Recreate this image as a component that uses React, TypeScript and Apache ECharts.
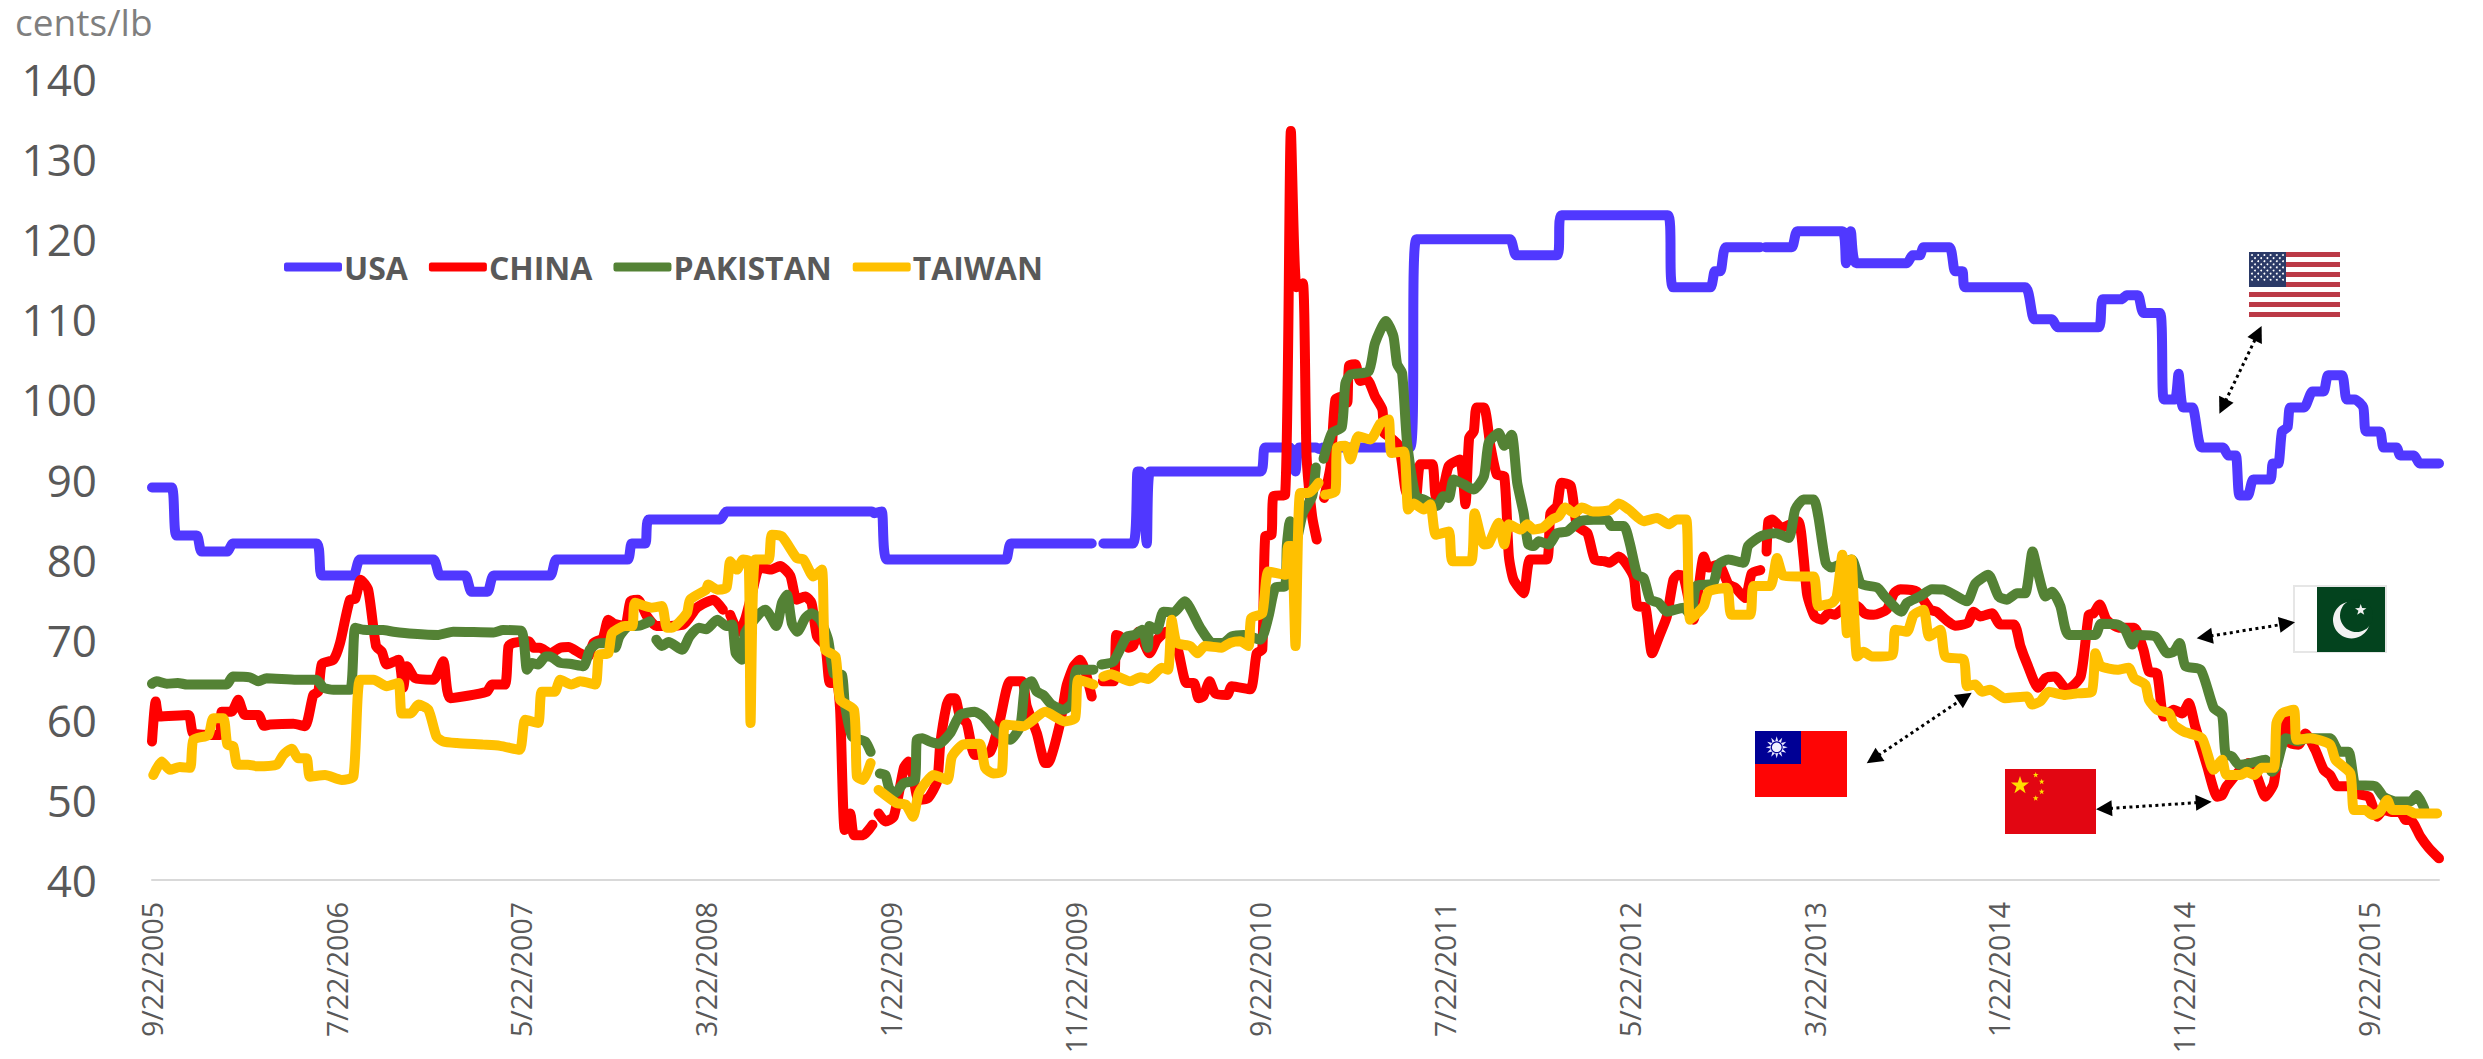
import React, { useEffect, useRef } from "react";
import * as echarts from "echarts";

type P = [number, number | null];

// x = months since 9/22/2005, y = cents/lb
const usa: P[] = [[0,89],[1.06,89],[1.33,83],[2.42,83],[2.69,81],[4.08,81],[4.37,82],[8.9,82],[9.2,78],[10.9,78],[11.26,80],[15.23,80],[15.6,78],[16.95,78],[17.3,76],[18.16,76],[18.5,78],[21.55,78],[21.9,80],[25.74,80],[25.97,82],[26.7,82],[26.9,85],[30.75,85],[31.1,86],[38.97,86],[39.1,85.8],[39.5,86],[39.8,80],[46.2,80],[46.5,82],[50.87,82],[51.2,null],[51.5,82],[53.1,82],[53.35,91],[53.5,91],[53.85,82],[54.03,91],[60,91],[60.26,94],[61.6,94],[61.9,91],[62.1,94],[63,94],[63.2,93.8],[63.4,94],[68.1,94],[68.45,120],[73.5,120],[73.85,118],[76.05,118],[76.3,123],[82.05,123],[82.35,114],[84.35,114],[84.6,116],[84.9,116],[85.2,119],[87.05,119],[87.2,null],[87.35,119],[88.76,119],[89.07,121],[91.5,121],[91.7,117],[91.96,121],[92.25,117],[95,117],[95.3,118],[95.7,118],[95.9,119],[97.3,119],[97.6,116],[98,116],[98.15,114],[101.4,114],[101.9,110],[102.85,110],[103.15,109],[105.37,109],[105.6,112.5],[106.6,112.5],[106.9,113],[107.5,113],[107.8,110.8],[108.7,110.8],[108.9,100],[109.5,100],[109.7,103.2],[109.95,99],[110.45,99],[110.95,94],[112.1,94],[112.4,93],[112.8,93],[113,88],[113.45,88],[113.75,90],[114.67,90],[114.8,92],[115.1,92],[115.3,96],[115.6,96.5],[115.75,99],[116.5,99],[116.95,101],[117.55,101],[117.8,103],[118.55,103],[118.8,100],[119.25,100],[119.7,99],[119.85,96],[120.6,96],[120.8,94],[121.5,94],[121.7,93],[122.45,93],[122.75,92],[123.8,92]];

const china: P[] = [[0,57.3],[0.2,62.3],[0.4,60.4],[1.97,60.6],[2.24,58.3],[3.68,58.1],[3.77,61],[4.3,61],[4.67,62.5],[5.03,60.6],[5.76,60.6],[6.06,59.25],[6.4,59.4],[7.65,59.5],[8.28,59.2],[8.73,63.1],[9,63.5],[9.2,67],[9.82,67.5],[10.18,69.6],[10.72,75],[11,75.1],[11.3,77.5],[11.7,76.25],[12.13,69.2],[12.44,68.5],[12.7,66.9],[13.34,67.5],[13.6,64],[13.8,66.7],[14.24,65.2],[15.23,65],[15.77,67.3],[16.14,62.7],[18.12,63.5],[18.4,64.4],[19.1,64.4],[19.3,69.2],[19.57,69.6],[20.4,69.8],[20.65,69],[21,69],[21.55,68.3],[22.1,69],[22.54,69.1],[23.17,68.3],[23.6,67.9],[23.9,69.6],[24.4,70.2],[24.7,72.5],[25,72],[25.6,71.7],[25.9,74.8],[26.3,75],[26.8,72.9],[27.3,71.7],[28.77,71.9],[29.5,74],[30.4,75],[30.9,73.75],[31.1,null],[31.3,73.1],[31.75,71],[32.1,72.5],[32.5,76],[32.9,79],[33.5,78.75],[34,79.2],[34.55,78],[34.9,75],[35.36,75.4],[35.7,74.6],[36,70.4],[36.45,69.2],[36.7,64.6],[37.07,64.6],[37.25,61.25],[37.5,46.25],[37.8,48.3],[38,45.6],[38.5,45.6],[39,46.9],[39.15,null],[39.33,48.3],[39.7,47.3],[40.15,47.9],[40.7,54],[40.95,54.8],[41.2,53],[41.5,50],[42,50.2],[42.5,52.3],[42.67,57],[43,61.7],[43.2,62.7],[43.47,62.7],[43.74,60.4],[44.1,59.6],[44.55,55.6],[45.37,56],[45.9,60],[46.45,64.8],[47.1,64.8],[47.35,61.7],[47.9,58.3],[48.35,54.6],[48.5,54.6],[49.16,59.6],[49.5,64.2],[49.9,66.7],[50.24,67.5],[50.5,66.25],[50.87,62.9],[51.2,null],[51.47,64.8],[52.05,64.8],[52.2,70.6],[52.4,70.4],[52.86,69],[53.1,69.2],[53.4,71],[54,68.3],[54.4,70],[54.9,71],[55.5,69],[56,64.6],[56.4,64.6],[56.65,62.7],[56.9,62.9],[57.25,64.8],[57.55,63.3],[58.2,63.1],[58.45,64.2],[59.45,63.8],[59.8,68.3],[60.1,68.75],[60.26,82.9],[60.6,83.1],[60.7,87.9],[61.34,88.1],[61.65,133.5],[61.95,114],[62.3,114.5],[62.5,92.9],[62.8,85.4],[63.05,82.5],[63.25,null],[63.45,87.7],[63.8,91.7],[64.06,100],[64.5,100.4],[64.7,99.6],[64.8,104.2],[65.14,104.4],[65.4,102.3],[65.77,102.5],[66.2,100.4],[66.6,98.75],[66.7,95.8],[66.95,95.4],[67.5,94.2],[67.85,88.75],[68.1,87.5],[68.4,87.5],[68.66,91.9],[69.3,91.9],[69.5,87.9],[69.9,89],[70.2,91.7],[70.8,92.5],[71.1,86.9],[71.3,95.2],[71.55,96],[71.7,99],[72.1,99],[72.45,94.2],[72.8,90.6],[73.2,90.4],[73.45,80.4],[73.7,77.5],[74.25,75.8],[74.6,80],[75.5,80],[75.7,85.8],[76.06,86.7],[76.3,89.6],[76.8,89.2],[77.14,84.2],[77.7,83.3],[78.1,80],[78.6,79.8],[78.9,79.6],[79.4,80.4],[80.2,77.9],[80.4,74.2],[80.85,74],[81.2,68.3],[81.65,70.8],[82,72.9],[82.36,77.5],[82.6,78.1],[82.9,77.9],[83.45,72.5],[83.7,76],[84,80.4],[84.26,79],[84.8,79.4],[85.34,76.9],[85.7,76.5],[86.24,75.2],[86.6,78.3],[87.06,78.7],[87.25,null],[87.4,81],[87.5,84.8],[87.7,85],[88.2,84],[89.1,84.8],[89.4,80.4],[89.6,75.6],[90,72.9],[90.4,72.5],[90.76,73.3],[91.1,73.1],[91.6,74],[92.3,74.2],[92.7,73.3],[93.2,73.1],[93.9,73.75],[94.3,75.8],[94.64,76.3],[95.54,76],[96.26,73.75],[96.6,73.5],[97.2,72.3],[97.6,71.75],[98.3,72.1],[98.6,73.5],[98.97,72.9],[99.6,73.3],[100.05,71.9],[100.8,71.9],[101.14,69.2],[101.5,67],[102.1,64],[102.5,65.2],[103,65.4],[103.66,63.75],[104.4,65.4],[104.84,73.1],[105.1,73.3],[105.43,74.4],[105.8,72.5],[106.46,71.5],[107.3,71.5],[107.8,68.75],[108.1,66],[108.54,65.8],[108.9,60.4],[109.44,61.25],[109.9,60.8],[110.25,62.1],[110.6,59.2],[111.25,54.2],[111.8,50.4],[112.06,50.6],[112.3,51.7],[113.5,54.6],[113.95,52.9],[114.4,50.4],[114.85,52],[115.1,56.25],[115.5,60.4],[115.76,57.1],[116.2,56.9],[116.57,58.3],[117.1,56.25],[117.56,53.75],[117.9,53.1],[118.3,51.7],[119,51.7],[119.3,50.8],[120,50.4],[120.45,47.9],[120.8,48.75],[121.2,48.5],[121.7,48.5],[122,47.5],[122.26,47.5],[122.8,45.4],[123.25,44],[123.8,42.7]];

const pakistan: P[] = [[0,64.5],[0.25,64.8],[0.8,64.5],[1.4,64.6],[1.9,64.4],[4.04,64.4],[4.37,65.4],[5.3,65.3],[5.76,64.8],[6.2,65.2],[7.83,65],[8.9,65],[9.28,64],[9.82,63.75],[10.72,63.75],[11,71.5],[11.44,71.25],[12.5,71.2],[13.07,71],[14.15,70.75],[15.5,70.6],[16.3,71],[18.5,70.9],[19,71.2],[20,71.1],[20.3,66.25],[20.56,67.1],[20.9,66.9],[21.3,67.9],[21.55,67.9],[22.1,67.1],[22.6,67],[23.36,66.7],[23.7,68.75],[24.1,69.5],[24.6,69.6],[25.07,69],[25.3,70.4],[25.8,71.7],[26.4,71.75],[26.96,72.3],[27.1,null],[27.3,70],[27.6,69.2],[27.96,69.7],[28.7,68.75],[29.1,70.4],[29.6,71.5],[30,71.3],[30.6,72.5],[31.1,71.7],[31.4,71.9],[31.6,68.3],[31.93,67.5],[32.1,70.8],[32.9,73.3],[33.2,73.75],[33.8,71.7],[34.1,74.6],[34.37,75.6],[34.64,72],[34.94,71],[35.36,72.7],[35.7,73.3],[36.17,72.5],[36.6,70],[36.9,65.8],[37.35,65.6],[37.5,62],[37.9,57.9],[38.6,57.3],[38.9,56],[39.15,null],[39.4,53.3],[39.7,53.1],[39.9,51.5],[40.2,50.8],[40.7,52.1],[41.3,52.5],[41.4,57.5],[41.7,57.7],[42.1,57.3],[42.6,57],[43.2,58.3],[43.74,60.6],[44.55,61],[45,60.4],[45.7,58.5],[46.45,57.5],[47,59.2],[47.26,64.2],[47.6,64.8],[47.9,63.5],[48.25,63.1],[48.7,61.9],[49.34,61.25],[49.8,62.1],[50.06,66.25],[50.96,66.25],[51.2,null],[51.4,66.9],[52.05,67.3],[52.77,70.4],[53.2,70.6],[53.6,71.25],[53.9,69],[54,71.7],[54.4,71.25],[54.75,73.5],[55.3,73.4],[55.9,74.8],[56.74,71.5],[57.4,69.6],[58,69.6],[58.45,70.4],[59.1,70.6],[60,70],[60.44,72.9],[60.8,76.5],[61.34,76.7],[61.43,81.7],[61.6,84.8],[61.9,82],[62.3,85.8],[62.8,87.9],[63,91.5],[63.2,null],[63.42,92.6],[63.87,95.8],[64.4,96.5],[64.6,102],[64.87,103.1],[65.86,103.5],[66.2,107],[66.8,109.8],[67.2,107.9],[67.4,104.4],[67.67,103.3],[67.94,94.6],[68.4,87.9],[68.84,87.5],[69.56,86.7],[69.9,87.9],[70.2,87.7],[70.46,90],[71,89.4],[71.55,88.75],[72.1,90.4],[72.36,94.6],[72.9,95.8],[73.2,94.2],[73.6,95.6],[73.9,89.6],[74.25,85.8],[74.5,81.9],[74.8,81.7],[75.07,82.3],[75.6,81.9],[76.06,83.3],[76.6,83.5],[77.3,84.8],[78.77,85],[79,84.2],[79.67,84.2],[80,82],[80.4,78.1],[80.75,77.7],[81.1,75],[81.56,74.6],[82,73.5],[82.9,74],[83.3,73],[83.6,76.7],[84.5,77],[84.8,79.4],[85.34,80],[86.15,79.6],[86.4,81.7],[87,82.8],[87.3,83.1],[87.9,83.3],[88.6,82.7],[88.95,86.25],[89.4,87.5],[89.95,87.5],[90.2,85.4],[90.6,79.6],[90.9,79],[92,80],[92.5,77],[93.4,76.5],[93.8,75.4],[94.7,73.5],[95,74.6],[95.7,75.4],[96.35,76.3],[97,76.25],[98.25,74.8],[98.7,77],[99.4,78.1],[99.96,75.4],[100.4,75],[100.96,75.8],[101.4,75.8],[101.8,81],[102.1,78.3],[102.5,75.4],[102.85,76],[103.3,74.2],[103.75,70.6],[105.2,70.6],[105.5,72],[106.4,71.9],[106.8,71.25],[107.2,69.4],[107.45,70.6],[108.45,70.4],[109.1,68.3],[109.44,68.5],[109.76,69.6],[110.07,66.7],[110.9,66.25],[111.6,61.5],[112.06,60.6],[112.24,55.8],[112.6,55.4],[112.96,54.4],[113.6,54.6],[114.4,55],[114.76,53.5],[115,54.2],[115.5,57.7],[116.2,57.3],[116.66,57.7],[117.9,57.7],[118.4,56],[118.9,56],[119.3,51.9],[120.36,51.7],[120.8,50.4],[121.44,49.8],[122.26,49.8],[122.6,50.6],[123,48.9]];

const taiwan: P[] = [[0.07,53.1],[0.52,54.8],[0.97,53.75],[1.5,54.1],[2.06,54],[2.24,57.5],[3.05,58.1],[3.32,60.2],[3.86,60.2],[4.08,56.9],[4.4,56.7],[4.62,54.4],[5.2,54.4],[5.67,54.2],[6.75,54.4],[7.1,55.6],[7.56,56.4],[7.92,55.2],[8.37,55.2],[8.55,52.9],[9.37,53.1],[10.27,52.5],[10.9,52.9],[11.26,65],[12,65],[12.7,64.2],[13.34,64.6],[13.52,60.8],[14,60.8],[14.42,61.9],[14.96,61.25],[15.4,57.9],[15.77,57.3],[16.5,57.1],[17.94,56.9],[18.84,56.75],[19.9,56.25],[20.2,60],[20.9,59.6],[21.1,63.5],[21.8,63.5],[22.1,65],[22.7,64.4],[23.17,64.8],[24,64.4],[24.2,68.1],[24.7,68.3],[24.9,70.8],[25.6,71.7],[26,71.7],[26.15,74.6],[27.05,74],[27.6,74.2],[27.87,71.5],[28.14,71.5],[28.95,73.3],[29.13,75],[30,76.25],[30.1,76.9],[30.6,76.25],[31.1,76.5],[31.3,79.8],[31.66,78.75],[32,80],[32.3,79.8],[32.4,59.6],[32.65,80],[33.37,80],[33.55,83.1],[34.1,82.9],[34.9,80.2],[35.27,80],[35.8,77.9],[36.26,78.75],[36.44,68.75],[37,67.9],[37.25,62.5],[38,61.25],[38.16,52.9],[38.5,52.5],[38.9,54.6],[39.1,null],[39.33,51.25],[40.3,49.6],[40.8,49.4],[41.2,47.9],[41.5,50.8],[41.86,52.1],[42.3,53.1],[43.05,52.5],[43.3,55.4],[43.9,56.9],[44.8,57],[45.1,54],[45.55,53.3],[46,53.5],[46.2,59.4],[47.17,59.2],[48.35,61],[49.4,59.8],[49.97,60.2],[50.15,65],[50.96,64.4],[51.2,null],[51.5,65.4],[51.9,65.7],[52.95,64.8],[53.5,65.3],[53.94,65.1],[54.66,66.5],[55,66.25],[55.2,72.5],[55.47,69.6],[56.2,69.2],[56.6,68.3],[57,69.2],[57.9,69],[58.36,69.6],[58.9,69.8],[59.36,69.2],[59.5,72.7],[60.1,73.3],[60.44,78.5],[61.34,78.1],[61.5,81.7],[61.7,81.7],[61.9,69.2],[62.15,88.3],[62.6,88.3],[63.15,89.6],[63.3,null],[63.5,88.1],[64.06,88.5],[64.15,94],[64.6,94.2],[64.87,92.5],[65.3,95.4],[65.95,95],[66.5,97],[66.94,97.5],[67.1,93.3],[67.76,93.5],[68,86.25],[68.3,87],[68.84,86.25],[69.2,86.9],[69.5,83.1],[70.2,83.5],[70.4,79.8],[71.4,79.8],[71.6,85.8],[72.1,81.9],[72.36,82],[72.9,84.6],[73.2,81.9],[73.45,84.4],[74.1,83.75],[74.44,84.4],[74.8,83.75],[75.3,84],[75.8,85],[76.15,85.4],[76.5,86.5],[77,85.8],[77.4,86.5],[78,86],[78.95,86.2],[79.4,87],[79.94,86.25],[80.75,84.8],[81.47,85.2],[82.1,84.4],[82.54,85],[83.05,85],[83.27,72.5],[84,74.2],[84.26,76],[85.25,76.5],[85.5,73.1],[86.5,73.1],[86.7,76.7],[87.6,76.7],[87.96,80.2],[88.3,78],[89,77.9],[89.95,77.9],[90.2,74.2],[90.94,74.6],[91.2,75.4],[91.5,80.6],[91.75,70.8],[92,80],[92.3,67.9],[92.65,68.5],[93.1,67.9],[94.2,68.1],[94.37,71.25],[95,71],[95.36,73.1],[95.9,73.75],[96.2,70.4],[96.8,71.25],[97.07,67.9],[98.07,67.5],[98.25,64.2],[98.7,64.4],[99.06,63.5],[99.5,63.75],[100.3,62.7],[101.5,62.9],[101.77,61.9],[102.22,62.3],[102.67,63.5],[103.57,63.1],[104.2,63.3],[105,63.5],[105.2,68.3],[105.5,66.7],[106.4,66.25],[107,66.5],[107.3,65.2],[107.9,64.4],[108.1,62.5],[108.54,61.25],[109.2,60.8],[109.44,59.4],[110,58.5],[110.97,57.7],[111.6,53.75],[112.06,55],[112.3,53.1],[113.05,53.1],[113.4,53.5],[113.8,53.1],[114.2,54],[114.85,54],[115,59.6],[115.3,60.8],[115.94,61.25],[116.1,57.5],[116.84,57.7],[117.9,56.9],[118.2,55],[119,53.3],[119.2,48.75],[119.8,48.75],[120.2,48.1],[120.6,48.5],[121,50],[121.27,48.75],[122.1,48.75],[122.5,48.3],[123.7,48.3]];

const seriesNames = ["USA", "CHINA", "PAKISTAN", "TAIWAN"];
const seriesColors = ["#5038FF", "#FF0000", "#548235", "#FFC000"];
const FONT = '"Open Sans", sans-serif';

function monthLabel(m: number): string {
  const total = 8 + m; // September 2005 is month index 8 of 2005
  const year = 2005 + Math.floor(total / 12);
  return `${(total % 12) + 1}/22/${year}`;
}

function star(cx: number, cy: number, r: number, inner: number, n = 5, rot = -Math.PI / 2) {
  const pts: number[][] = [];
  for (let i = 0; i < n * 2; i++) {
    const rr = i % 2 === 0 ? r : inner;
    const a = rot + (i * Math.PI) / n;
    pts.push([cx + rr * Math.cos(a), cy + rr * Math.sin(a)]);
  }
  return { type: "polygon", shape: { points: pts }, z: 20 };
}

function rect(x: number, y: number, w: number, h: number, fill: string, extra: any = {}) {
  return { type: "rect", shape: { x, y, width: w, height: h }, style: { fill, ...extra }, z: 20 };
}

function arrow(x1: number, y1: number, x2: number, y2: number) {
  const L = Math.hypot(x2 - x1, y2 - y1);
  const ux = (x2 - x1) / L, uy = (y2 - y1) / L;
  const head = (tx: number, ty: number, dx: number, dy: number) => ({
    type: "polygon",
    z: 21,
    shape: {
      points: [
        [tx, ty],
        [tx - dx * 16 - dy * 8, ty - dy * 16 + dx * 8],
        [tx - dx * 16 + dy * 8, ty - dy * 16 - dx * 8],
      ],
    },
    style: { fill: "#000" },
  });
  return [
    {
      type: "line",
      z: 21,
      shape: { x1: x1 + ux * 14, y1: y1 + uy * 14, x2: x2 - ux * 14, y2: y2 - uy * 14 },
      style: { stroke: "#000", lineWidth: 3, lineDash: [3, 3.5] },
    },
    head(x1, y1, -ux, -uy),
    head(x2, y2, ux, uy),
  ];
}

function usaFlag() {
  const x = 2249, y = 252, w = 91, h = 65;
  const out: any[] = [rect(x, y, w, h, "#fff")];
  const sh = h / 13;
  for (let i = 0; i < 13; i += 2) out.push(rect(x, y + i * sh, w, sh, "#BB3A47"));
  out.push(rect(x, y, 37, sh * 7, "#2B3A67"));
  for (let r = 0; r < 9; r++) {
    const cols = r % 2 === 0 ? 6 : 5;
    for (let c = 0; c < cols; c++) {
      out.push({
        type: "circle",
        z: 21,
        shape: { cx: x + 3 + (r % 2 === 0 ? 0 : 3) + c * 6.2, cy: y + 3 + r * 3.1, r: 0.95 },
        style: { fill: "#fff" },
      });
    }
  }
  return out;
}

function pakistanFlag() {
  const green = "#03431E";
  return [
    rect(2294, 586, 92, 66, "#fff", { stroke: "#E6E6E6", lineWidth: 2 }),
    rect(2317, 587, 68, 65, green),
    { type: "circle", z: 21, shape: { cx: 2351.5, cy: 620, r: 18.5 }, style: { fill: "#F2F2F2" } },
    { type: "circle", z: 22, shape: { cx: 2356.5, cy: 615.5, r: 16.5 }, style: { fill: green } },
    { ...star(2360.7, 610, 6, 2.4), z: 23, style: { fill: "#F2F2F2" } },
  ];
}

function taiwanFlag() {
  return [
    rect(1755, 731, 92, 66, "#FE0505"),
    rect(1755, 731, 46, 33, "#000095"),
    { ...star(1776.7, 747.3, 11, 6, 12), z: 21, style: { fill: "#E8E8FF" } },
    { type: "circle", z: 22, shape: { cx: 1776.7, cy: 747.3, r: 6 }, style: { fill: "#000095" } },
    { type: "circle", z: 23, shape: { cx: 1776.7, cy: 747.3, r: 4.8 }, style: { fill: "#F0F0FF" } },
  ];
}

function chinaFlag() {
  const y = "#FFDE00";
  return [
    rect(2005, 769, 91, 65, "#E20612"),
    { ...star(2020, 785.5, 9.5, 3.7), z: 21, style: { fill: y } },
    { ...star(2035.7, 775, 3, 1.2), z: 21, style: { fill: y } },
    { ...star(2041.7, 781.7, 3, 1.2), z: 21, style: { fill: y } },
    { ...star(2041.7, 791.7, 3, 1.2), z: 21, style: { fill: y } },
    { ...star(2035.7, 798.3, 3, 1.2), z: 21, style: { fill: y } },
  ];
}

export default function App() {
  const ref = useRef<HTMLDivElement>(null);
  useEffect(() => {
    document.body.style.margin = "0";
    document.body.style.background = "#fff";
    const chart = echarts.init(ref.current!, undefined, { renderer: "svg" });
    const lists = [usa, china, pakistan, taiwan];
    chart.setOption({
      animation: false,
      backgroundColor: "#fff",
      title: {
        text: "cents/lb",
        left: 15,
        top: 3,
        padding: 0,
        textStyle: { fontFamily: FONT, fontSize: 37, fontWeight: "normal", color: "#7F7F7F" },
      },
      legend: {
        left: 279,
        top: 246,
        itemWidth: 58,
        itemHeight: 9,
        itemGap: 21,
        icon: "roundRect",
        textStyle: { fontFamily: FONT, fontSize: 32, fontWeight: "bold", color: "#595959", padding: [0, 0, 0, -3] },
        data: seriesNames,
      },
      grid: { left: 152, right: 44, top: 79, bottom: 179, containLabel: false },
      xAxis: {
        type: "value",
        min: 0,
        max: 123.8,
        interval: 10,
        splitLine: { show: false },
        axisTick: { show: false },
        axisLine: { lineStyle: { color: "#D9D9D9", width: 2 } },
        axisLabel: {
          rotate: 90,
          margin: 22,
          showMaxLabel: false,
          fontFamily: FONT,
          fontSize: 28.5,
          color: "#595959",
          formatter: (v: number) => monthLabel(v),
        },
      },
      yAxis: {
        type: "value",
        min: 40,
        max: 140,
        interval: 10,
        splitLine: { show: false },
        axisTick: { show: false },
        axisLine: { show: false },
        axisLabel: { margin: 55, fontFamily: FONT, fontSize: 44, color: "#595959" },
      },
      series: seriesNames.map((name, i) => ({
        name,
        type: "line",
        data: lists[i],
        showSymbol: false,
        symbol: "none",
        smooth: 0.2,
        connectNulls: false,
        clip: false,
        itemStyle: { color: seriesColors[i] },
        lineStyle: { color: seriesColors[i], width: 10, cap: "round", join: "round" },
      })),
      graphic: [
        ...usaFlag(),
        ...pakistanFlag(),
        ...taiwanFlag(),
        ...chinaFlag(),
        ...arrow(2219.4, 413.7, 2261.6, 326),
        ...arrow(2196.7, 638.3, 2295, 622.3),
        ...arrow(2096, 809.3, 2211.7, 801.7),
        ...arrow(1866.7, 763.3, 1971.7, 692.7),
      ],
    });
    return () => chart.dispose();
  }, []);
  return <div ref={ref} style={{ position: "absolute", left: 0, top: 0, width: 2483, height: 1059 }} />;
}
